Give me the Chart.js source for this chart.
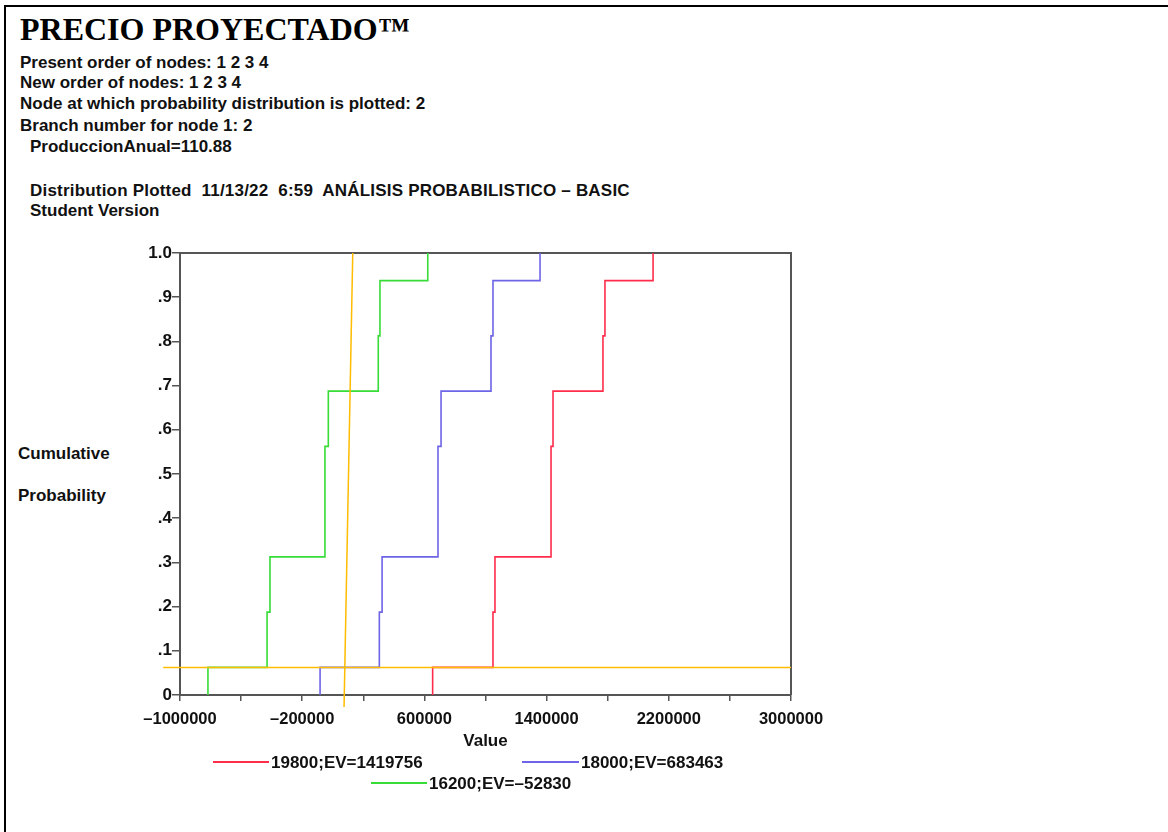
<!DOCTYPE html>
<html>
<head>
<meta charset="utf-8">
<script src="https://cdn.jsdelivr.net/npm/chart.js@4.4.1/dist/chart.umd.min.js"></script>
<style>
  html, body { margin: 0; padding: 0; background: #fff; }
  #page { position: relative; width: 1168px; height: 832px; overflow: hidden; background: #fff; }
  #chartBox { position: absolute; left: 0; top: 0; width: 1168px; height: 832px; }
  .t { position: absolute; font-family: "Liberation Sans", Arial, sans-serif; font-weight: bold; font-size: 17px; line-height: 17px; color: #111; white-space: pre; }
  #title { position: absolute; left: 20px; top: 13px; font-family: "Liberation Serif", "Times New Roman", serif; font-weight: bold; font-size: 32px; line-height: 32px; color: #000; white-space: pre; }
  .bl { position: absolute; background: #000; }
  .lg-line { position: absolute; height: 2px; }
</style>
</head>
<body>
<div id="page">
  <div class="bl" style="left:4px; top:5px; width:1164px; height:2px;"></div>
  <div class="bl" style="left:4px; top:5px; width:2px; height:827px;"></div>
  <div id="title">PRECIO PROYECTADO™</div>
  <div class="t" style="left:20px; top:54px;">Present order of nodes: 1 2 3 4</div>
  <div class="t" style="left:20px; top:74px;">New order of nodes: 1 2 3 4</div>
  <div class="t" style="left:20px; top:95px;">Node at which probability distribution is plotted: 2</div>
  <div class="t" style="left:20px; top:117px;">Branch number for node 1: 2</div>
  <div class="t" style="left:30px; top:138px;">ProduccionAnual=110.88</div>
  <div class="t" style="left:30px; top:182px; letter-spacing:0.2px;">Distribution Plotted  11/13/22  6:59  ANÁLISIS PROBABILISTICO – BASIC</div>
  <div class="t" style="left:30px; top:202px;">Student Version</div>
  <div class="t" style="left:18px; top:445px;">Cumulative</div>
  <div class="t" style="left:18px; top:487px;">Probability</div>
  <div id="chartBox"><canvas id="c" width="1168" height="832"></canvas></div>
  <div id="legend"></div>
</div>
<script>
// ---- data ----
const cumProb = [0.0625, 0.1875, 0.3125, 0.5625, 0.6875, 0.8125, 0.9375, 1.0];
const values19800 = [654000, 1049000, 1062000, 1429000, 1442000, 1769000, 1782000, 2097000];
const values18000 = [-83000, 305000, 323000, 689000, 709000, 1036000, 1049000, 1357000];
const values16200 = [-817000, -430000, -411000, -51000, -29000, 298000, 309000, 622000];
const seriesLabels = ["19800;EV=1419756", "18000;EV=683463", "16200;EV=\u201352830"];
const refHX = [-1110000, 3000000];
const refHY = [0.0625, 0.0625];
const refVX = [74000, 131000];
const refVY = [-0.027, 1.0];
const xTickMin = -1000000, xTickMax = 3000000, xMinorStep = 400000, xLabelStep = 800000;

function cdfPoints(vals) {
  const pts = [{x: vals[0], y: 0}];
  vals.forEach((v, i) => pts.push({x: v, y: cumProb[i]}));
  return pts;
}
function linePts(xs, ys) { return xs.map((x, i) => ({x: x, y: ys[i]})); }

const RED = 'rgb(255,45,75)', BLUE = 'rgb(110,100,230)', GREEN = 'rgb(55,220,55)', ORANGE = 'rgb(255,188,0)';

const datasets = [
  {label: 'refH', data: linePts(refHX, refHY), borderColor: ORANGE, borderWidth: 1.5, clip: false, order: 0},
  {label: 'refV', data: linePts(refVX, refVY), borderColor: ORANGE, borderWidth: 1.5, clip: false, order: 0},
  {label: seriesLabels[0], data: cdfPoints(values19800), borderColor: RED, borderWidth: 1.6, stepped: 'before', order: 1},
  {label: seriesLabels[1], data: cdfPoints(values18000), borderColor: BLUE, borderWidth: 1.6, stepped: 'before', order: 1},
  {label: seriesLabels[2], data: cdfPoints(values16200), borderColor: GREEN, borderWidth: 1.6, stepped: 'before', order: 1},
];
datasets.forEach(d => { d.showLine = true; d.pointRadius = 0; d.fill = false; d.tension = 0; });

const FONT = {family: '"Liberation Sans", Arial, sans-serif', weight: 'bold', size: 17};

const frame = {
  id: 'frame',
  beforeDatasetsDraw(chart) {
    const a = chart.chartArea, ctx = chart.ctx;
    ctx.save();
    ctx.strokeStyle = '#555';
    ctx.lineWidth = 2;
    ctx.beginPath();
    ctx.moveTo(a.left, a.top); ctx.lineTo(a.right, a.top); ctx.lineTo(a.right, a.bottom);
    ctx.stroke();
    ctx.restore();
  }
};

const chart = new Chart(document.getElementById('c'), {
  type: 'scatter',
  data: {datasets: datasets},
  plugins: [frame],
  options: {
    responsive: false,
    animation: false,
    events: [],
    layout: {padding: {left: 0, top: 253, right: 377, bottom: 80}},
    plugins: {legend: {display: false}, tooltip: {enabled: false}},
    scales: {
      x: {
        type: 'linear', min: xTickMin, max: xTickMax,
        afterFit(s) { s.height = 57; },
        border: {display: true, color: '#555', width: 2},
        grid: {drawOnChartArea: false, drawTicks: true, tickLength: 6, color: '#555', lineWidth: 1.5},
        ticks: {
          stepSize: xMinorStep, color: '#111', font: {...FONT, size: 16.5}, padding: 9, maxRotation: 0, autoSkip: false,
          callback(v) {
            if (Math.round(v - xTickMin) % xLabelStep !== 0) return '';
            return v < 0 ? '\u2013' + Math.abs(v) : String(v);
          }
        },
        title: {display: true, text: 'Value', color: '#111', font: FONT, padding: 0}
      },
      y: {
        type: 'linear', min: 0, max: 1,
        afterFit(s) { s.width = 180; },
        border: {display: true, color: '#555', width: 2},
        grid: {drawOnChartArea: false, drawTicks: true, tickLength: 8, color: '#555', lineWidth: 1.5},
        ticks: {
          stepSize: 0.1, color: '#111', font: FONT, padding: 0,
          callback(v) {
            const n = Math.round(v * 10);
            if (n === 0) return '0';
            if (n === 10) return '1.0';
            return '.' + n;
          }
        }
      }
    }
  }
});

// ---- HTML legend built from the chart's datasets ----
const legendPos = [
  {ds: 2, lineL: 213, lineR: 269, y: 762},
  {ds: 3, lineL: 522, lineR: 579, y: 762},
  {ds: 4, lineL: 371, lineR: 427, y: 783},
];
const lg = document.getElementById('legend');
legendPos.forEach(p => {
  const d = chart.data.datasets[p.ds];
  const ln = document.createElement('div');
  ln.className = 'lg-line';
  ln.style.left = p.lineL + 'px'; ln.style.width = (p.lineR - p.lineL) + 'px';
  ln.style.top = (p.y - 1) + 'px'; ln.style.background = d.borderColor;
  lg.appendChild(ln);
  const tx = document.createElement('div');
  tx.className = 't';
  tx.style.left = (p.lineR + 2) + 'px'; tx.style.top = (p.y - 8) + 'px';
  tx.textContent = d.label;
  lg.appendChild(tx);
});
</script>
</body>
</html>
